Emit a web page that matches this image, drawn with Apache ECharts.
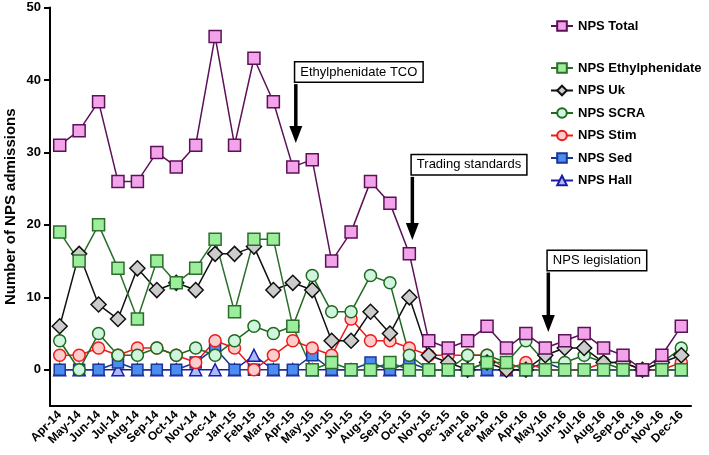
<!DOCTYPE html>
<html><head><meta charset="utf-8">
<script src="https://cdn.jsdelivr.net/npm/echarts@6/dist/echarts.min.js"></script>
<style>html,body{margin:0;padding:0;background:#fff}#c{width:709px;height:455px}</style>
</head><body><div id="c"></div>
<script>
const months = ['Apr-14','May-14','Jun-14','Jul-14','Aug-14','Sep-14','Oct-14','Nov-14','Dec-14',
  'Jan-15','Feb-15','Mar-15','Apr-15','May-15','Jun-15','Jul-15','Aug-15','Sep-15','Oct-15','Nov-15','Dec-15',
  'Jan-16','Feb-16','Mar-16','Apr-16','May-16','Jun-16','Jul-16','Aug-16','Sep-16','Oct-16','Nov-16','Dec-16'];
const npsTotal = [31,33,37,26,26,30,28,31,46, 31,43,37,28,29,15,19,26,23,16,4,3, 4,6,3,5,3,4,5,3,2,0,2,6];
const npsEthylphenidate = [19,15,20,14,7,15,12,14,18, 8,18,18,6,0,1,0,0,1,0,0,0, 0,1,1,0,0,0,0,0,0,0,0,0];
const npsUk = [6,16,9,7,14,11,12,11,16, 16,17,11,12,11,4,4,8,5,10,2,1, 0,1,0,0,2,3,3,1,1,0,1,2];
const npsSCRA = [4,0,5,2,2,3,2,3,2, 4,6,5,6,13,8,8,13,12,2,0,0, 2,2,1,4,1,1,2,1,0,0,1,3];
const npsStim = [2,2,3,2,3,3,2,1,4, 3,0,2,4,3,2,7,4,4,3,2,2, 2,2,0,1,0,0,0,1,1,0,0,1];
const npsSed = [0,0,0,1,0,0,0,1,3, 0,0,0,0,2,0,0,1,0,1,0,0, 0,0,0,0,1,0,0,0,0,0,0,0];
const npsHall = [0,0,0,0,0,0,0,0,0, 0,2,0,0,0,0,0,0,0,0,0,0, 0,0,0,0,0,0,0,0,0,0,0,0];
const yTicks = [0,10,20,30,40,50];
// annotations: label, month of arrow, value at box top, value at arrow tip
const annotLabels = ['Ethylphenidate TCO','Trading standards','NPS legislation'];
const annotMonths = ['Apr-15','Oct-15','May-16'];
const annotBoxTop = [42.6, 29.8, 16.6];
const annotTip = [31.3, 17.9, 5.2];

const FONT = '"Liberation Sans", Arial, Helvetica, sans-serif';
const chart = echarts.init(document.getElementById('c'));

function mk(name, data, symbol, size, line, fill, border) {
  return {name, type:'line', data, symbol, symbolSize:size,
    lineStyle:{color:line, width:1.5},
    itemStyle:{color:fill, borderColor:border, borderWidth:1.5},
    emphasis:{disabled:true}};
}
const series = [
  mk('NPS Hall', npsHall, 'triangle', 12, '#1c1ca8', '#aabcff', '#1c1ca8'),
  mk('NPS Sed', npsSed, 'rect', 11, '#1a3596', '#4c8ef0', '#1a3596'),
  mk('NPS Stim', npsStim, 'circle', 12, '#ee1c1c', '#ffcccc', '#ee1c1c'),
  mk('NPS SCRA', npsSCRA, 'circle', 12, '#1f6a1f', '#cff5de', '#1f6a1f'),
  mk('NPS Uk', npsUk, 'diamond', 15, '#111111', '#cccccc', '#111111'),
  mk('NPS Ethylphenidate', npsEthylphenidate, 'rect', 12, '#2a6e2a', '#9cee9c', '#2a6e2a'),
  mk('NPS Total', npsTotal, 'rect', 12, '#5c1058', '#f3a3ea', '#5c1058')
];
const legendCommon = {orient:'vertical', left:545, itemWidth:22, itemHeight:12, itemGap:9.5,
  textStyle:{fontWeight:'bold', fontSize:13, color:'#000', fontFamily:FONT}, selectedMode:false};

chart.setOption({
  animation:false,
  textStyle:{fontFamily:FONT},
  grid:{left:50, right:18, top:7.5, bottom:49, containLabel:false, outerBoundsMode:'none'},
  legend:[
    Object.assign({top:14.5, data:['NPS Total']}, legendCommon),
    Object.assign({top:56.5, data:['NPS Ethylphenidate','NPS Uk','NPS SCRA','NPS Stim','NPS Sed','NPS Hall']}, legendCommon)
  ],
  xAxis:{type:'category', data:months, boundaryGap:true,
    axisLine:{onZero:false, lineStyle:{color:'#000', width:2}},
    axisTick:{alignWithLabel:true, length:5, lineStyle:{color:'#000', width:1.5}},
    axisLabel:{rotate:45, interval:0, fontWeight:'bold', fontSize:12, color:'#000', margin:7, fontFamily:FONT}},
  yAxis:{type:'value', min:-5, max:50,
    axisLine:{show:true, lineStyle:{color:'#000', width:2}},
    axisTick:{show:true, length:6, lineStyle:{color:'#000', width:2}, customValues:yTicks},
    axisLabel:{customValues:yTicks, fontWeight:'bold', fontSize:13, color:'#000', margin:9, fontFamily:FONT},
    splitLine:{show:false},
    name:'Number of NPS admissions', nameLocation:'middle', nameGap:32, nameMoveOverlap:false,
    nameTextStyle:{fontWeight:'bold', fontSize:15, color:'#000', fontFamily:FONT}},
  series
});

const graphics = [];
annotLabels.forEach((lab, i) => {
  const [ax, tipY] = chart.convertToPixel({gridIndex:0}, [annotMonths[i], annotTip[i]]);
  const [, boxTop] = chart.convertToPixel({gridIndex:0}, [annotMonths[i], annotBoxTop[i]]);
  const x = ax + 3;
  const boxH = 21;
  graphics.push({type:'text', left:x - 2, top:boxTop, z:100,
    style:{text:lab, font:'13px ' + FONT, fill:'#000', backgroundColor:'#fff',
      borderColor:'#000', borderWidth:1.5, padding:[3,5,3,5]}});
  const shaftTop = boxTop + boxH + 2;
  const headH = 17;
  graphics.push({type:'line', z:100, shape:{x1:x, y1:shaftTop, x2:x, y2:tipY - headH + 1},
    style:{stroke:'#000', lineWidth:3.5}});
  graphics.push({type:'polygon', z:100, shape:{points:[[x-6.5, tipY-headH],[x+6.5, tipY-headH],[x, tipY]]},
    style:{fill:'#000'}});
});
chart.setOption({graphic:graphics});
</script>
</body></html>
